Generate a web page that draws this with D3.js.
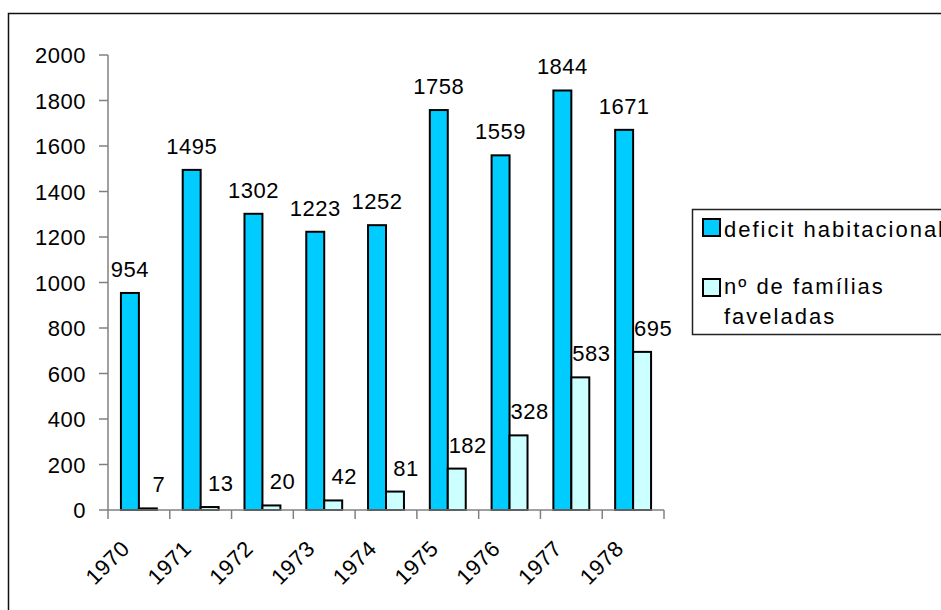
<!DOCTYPE html>
<html>
<head>
<meta charset="utf-8">
<script src="https://cdn.jsdelivr.net/npm/d3@7"></script>
<style>
  body { margin: 0; background: #fff; }
  text { font-family: "Liberation Sans", Arial, sans-serif; fill: #000; }
</style>
</head>
<body>
<div id="chart"></div>
<script>
var years = ["1970", "1971", "1972", "1973", "1974", "1975", "1976", "1977", "1978"];
var deficit = [954, 1495, 1302, 1223, 1252, 1758, 1559, 1844, 1671];
var favelas = [7, 13, 20, 42, 81, 182, 328, 583, 695];
var yTicks = [0, 200, 400, 600, 800, 1000, 1200, 1400, 1600, 1800, 2000];
var seriesColors = ["#00CCFF", "#CCFFFF"];

var width = 941, height = 610;
var svg = d3.select("#chart").append("svg")
    .attr("width", width).attr("height", height);

// outer chart border (runs off the right/bottom edge)
svg.append("rect")
    .attr("x", 8.5).attr("y", 13.5)
    .attr("width", 1000).attr("height", 1000)
    .attr("fill", "none").attr("stroke", "#111").attr("stroke-width", 1.5);

var x0 = d3.scaleBand().domain(years).range([108, 664]).padding(0);
var x1 = d3.scaleBand().domain([0, 1]).range([0, x0.bandwidth()])
    .paddingInner(0).paddingOuter(0.72);
var y = d3.scaleLinear().domain([0, 2000]).range([510, 55]);

var rows = years.map(function(yr, i) {
  return { year: yr, values: [deficit[i], favelas[i]] };
});

// y axis
var yAxis = svg.append("g");
yAxis.append("line")
    .attr("x1", 108).attr("x2", 108)
    .attr("y1", y(2000)).attr("y2", y(0))
    .attr("stroke", "#808080").attr("stroke-width", 1.5);
yAxis.selectAll(".yt").data(yTicks).enter().append("line")
    .attr("x1", 99).attr("x2", 108)
    .attr("y1", function(d) { return y(d); })
    .attr("y2", function(d) { return y(d); })
    .attr("stroke", "#808080").attr("stroke-width", 1.5);
yAxis.selectAll(".yl").data(yTicks).enter().append("text")
    .attr("x", 86)
    .attr("y", function(d) { return y(d) + 8; })
    .attr("text-anchor", "end")
    .style("font-size", "22px").style("letter-spacing", "0.5px")
    .text(function(d) { return d; });

// bars
var groups = svg.selectAll(".grp").data(rows).enter().append("g")
    .attr("transform", function(d) { return "translate(" + x0(d.year) + ",0)"; });

groups.selectAll("rect").data(function(d) { return d.values; }).enter().append("rect")
    .attr("x", function(d, i) { return x1(i); })
    .attr("y", function(d) { return y(d); })
    .attr("width", x1.bandwidth())
    .attr("height", function(d) { return y(0) - y(d); })
    .attr("fill", function(d, i) { return seriesColors[i]; })
    .attr("stroke", "#000").attr("stroke-width", 2);

groups.selectAll(".lbl").data(function(d) { return d.values; }).enter().append("text")
    .attr("x", function(d, i) { return x1(i) + x1.bandwidth() / 2 + (i === 1 ? 11 : 0); })
    .attr("y", function(d) { return y(d) - 16; })
    .attr("text-anchor", "middle")
    .style("font-size", "22px").style("letter-spacing", "0.5px")
    .text(function(d) { return d; });

// x axis
var xAxis = svg.append("g");
xAxis.append("line")
    .attr("x1", 108).attr("x2", 664)
    .attr("y1", y(0)).attr("y2", y(0))
    .attr("stroke", "#808080").attr("stroke-width", 1.5);
var bounds = years.map(function(d) { return x0(d); }).concat([x0.range()[1]]);
xAxis.selectAll(".xt").data(bounds).enter().append("line")
    .attr("x1", function(d) { return d; }).attr("x2", function(d) { return d; })
    .attr("y1", y(0)).attr("y2", y(0) + 9)
    .attr("stroke", "#808080").attr("stroke-width", 1.5);
xAxis.selectAll(".xl").data(years).enter().append("text")
    .attr("text-anchor", "end")
    .attr("transform", function(d) {
      return "translate(" + (x0(d) + x0.bandwidth() / 2 - 8) + ",550) rotate(-45)";
    })
    .style("font-size", "22px").style("letter-spacing", "0.5px")
    .text(function(d) { return d; });

// legend
var legend = svg.append("g");
legend.append("rect")
    .attr("x", 692.5).attr("y", 209.5)
    .attr("width", 400).attr("height", 125)
    .attr("fill", "#fff").attr("stroke", "#222").attr("stroke-width", 1.5);
var legendItems = [
  { lines: ["deficit habitacional"], sy: 219, ty: [237] },
  { lines: ["nº de famílias", "faveladas"], sy: 279, ty: [294, 324] }
];
legendItems.forEach(function(item, i) {
  legend.append("rect")
      .attr("x", 703).attr("y", item.sy)
      .attr("width", 17).attr("height", 17)
      .attr("fill", seriesColors[i]).attr("stroke", "#000").attr("stroke-width", 2);
  item.lines.forEach(function(line, j) {
    legend.append("text")
        .attr("x", 724).attr("y", item.ty[j])
        .style("font-size", "22px").style("letter-spacing", "2px")
        .text(line);
  });
});
</script>
</body>
</html>
